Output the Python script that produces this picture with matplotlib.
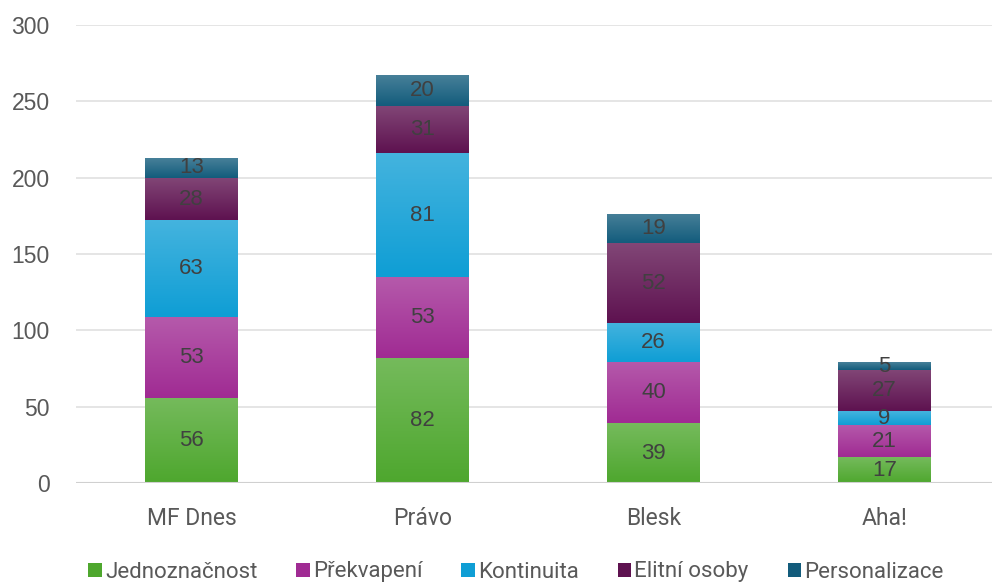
import numpy as np
import matplotlib.pyplot as plt
from matplotlib.colors import to_rgb

categories = ['MF Dnes', 'Právo', 'Blesk', 'Aha!']
series = ['Jednoznačnost', 'Překvapení', 'Kontinuita', 'Elitní osoby', 'Personalizace']
jednoznacnost = [56, 82, 39, 17]
prekvapeni = [53, 53, 40, 21]
kontinuita = [63, 81, 26, 9]
elitni = [28, 31, 52, 27]
personalizace = [13, 20, 19, 5]
values = [jednoznacnost, prekvapeni, kontinuita, elitni, personalizace]
colors = ['#4ea72e', '#a02b93', '#0f9ed5', '#5e1250', '#135c7c']
yticks = [0, 50, 100, 150, 200, 250, 300]

fig = plt.figure(figsize=(9.92, 5.85), dpi=100)
ax = fig.add_axes([76 / 992, 102 / 585, 916 / 992, 458 / 585])

x = np.arange(len(categories))
bottom = np.zeros(len(categories))
handles = []
for name, vals, col in zip(series, values, colors):
    bars = ax.bar(x, vals, 0.4, bottom=bottom, color=col, label=name, zorder=2)
    handles.append(bars)
    # vertical gradient, lighter at the top of each segment
    base = np.array(to_rgb(col))
    light = base + (1 - base) * 0.22
    t = np.linspace(0, 1, 64)[:, None]
    grad = light * (1 - t[..., None]) + base * t[..., None]
    grad = np.repeat(grad, 2, axis=1)
    for b in bars:
        bx, by = b.get_x(), b.get_y()
        im = ax.imshow(grad, extent=(bx, bx + b.get_width(), by, by + b.get_height()),
                       origin='upper', aspect='auto', zorder=2.5, interpolation='bilinear')
        im.set_clip_path(b)
    for xi, v, b in zip(x, vals, bottom):
        ax.text(xi, b + v / 2, str(v), ha='center', va='center', fontsize=16,
                color='#404040', family='Liberation Sans', zorder=4)
    bottom += np.array(vals)

ax.set_xlim(-0.5, -0.5 + 916 / 231)
ax.set_ylim(0, 300)
ax.set_yticks(yticks)
ax.set_xticks(x)
ax.set_xticklabels(categories, family='Roboto', fontsize=16.5, color='#595959')
for lab in ax.get_yticklabels():
    lab.set_family('Liberation Sans')
    lab.set_fontsize(16.5)
    lab.set_color('#595959')
ax.tick_params(length=0)
ax.tick_params(axis='x', pad=17)
ax.tick_params(axis='y', pad=19)
ax.grid(axis='y', color='#e0e0e0', linewidth=1.2, zorder=0)
ax.axhline(0, color='#d0d0d0', linewidth=1.5, zorder=3)
for s in ax.spines.values():
    s.set_visible(False)
ax.set_axisbelow(True)

leg = fig.legend(handles=handles, labels=series, loc='center', bbox_to_anchor=(516 / 992, 13 / 585),
                 ncol=5, frameon=False, handlelength=0.6, handleheight=0.6, handletextpad=0.15,
                 columnspacing=1.75, prop={'family': 'Roboto', 'size': 16})
for t in leg.get_texts():
    t.set_color('#595959')

fig.savefig('out.png', dpi=100)
